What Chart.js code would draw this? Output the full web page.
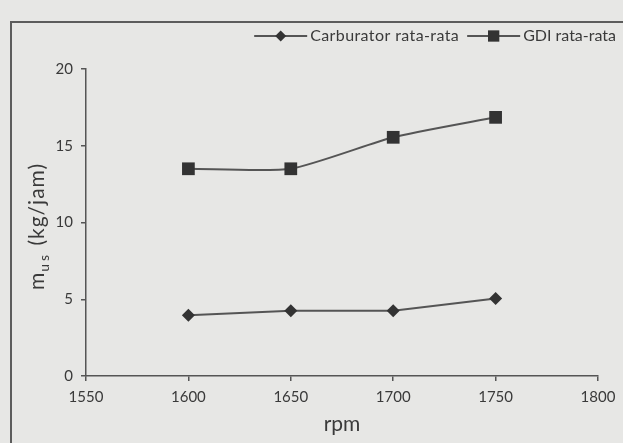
<!DOCTYPE html>
<html><head><meta charset="utf-8">
<script src="https://cdn.jsdelivr.net/npm/chart.js@4/dist/chart.umd.min.js"></script>
<style>
html,body{margin:0;padding:0;background:#e7e7e5;}
#wrap{position:relative;width:623px;height:443px;overflow:hidden;background:#e7e7e5;}
#frame{position:absolute;left:10px;top:21px;width:700px;height:500px;border-left:2px solid #5c5c5c;border-top:2px solid #5c5c5c;}
canvas{position:absolute;left:0;top:0;}
</style></head><body>
<div id="wrap"><div id="frame"></div><canvas id="c" width="623" height="443"></canvas></div>
<script>
const rpm = [1600, 1650, 1700, 1750];
const carburator = [3.95, 4.25, 4.25, 5.05];
const gdi = [13.5, 13.5, 15.55, 16.85];
const seriesNames = ['Carburator rata-rata', 'GDI rata-rata'];
const xTicks = [1550, 1600, 1650, 1700, 1750, 1800];
const yTicks = [0, 5, 10, 15, 20];
const xTitle = 'rpm';
const yTitleMain = 'm', yTitleSub = 'us', yTitleUnit = '(kg/jam)';

const INK = '#3a3a3a';
const LINE = '#555555';
const MARK = '#333333';
const FONT = 'Lato, "Open Sans", sans-serif';

function pts(vals){ return rpm.map((x,i)=>({x:x, y:vals[i]})); }

function drawMarker(ctx, style, x, y, r){
  ctx.beginPath();
  if(style==='rectRot'){
    ctx.moveTo(x, y-r); ctx.lineTo(x+r, y); ctx.lineTo(x, y+r); ctx.lineTo(x-r, y);
  } else {
    const s = r*Math.SQRT1_2; ctx.rect(x-s, y-s, 2*s, 2*s);
  }
  ctx.closePath(); ctx.fill();
}

const annot = {
  id: 'annot',
  afterDraw(chart){
    const ctx = chart.ctx, ca = chart.chartArea;
    ctx.save();
    // legend (right aligned, above plot)
    ctx.textBaseline = 'middle';
    const ly = 36;
    let right = 616;
    const styles = ['rectRot','rect'], radii=[5.5,8], spacing=['0.4px','0px'];
    for(let i=seriesNames.length-1;i>=0;i--){
      ctx.font = '16px ' + FONT;
      ctx.letterSpacing = spacing[i];
      const w = ctx.measureText(seriesNames[i]).width;
      const tx = right - w;
      ctx.fillStyle = INK; ctx.textAlign='left';
      ctx.fillText(seriesNames[i], tx, ly);
      ctx.letterSpacing = '0px';
      const l1 = tx - 3, l0 = l1 - 53;
      ctx.strokeStyle = LINE; ctx.lineWidth = 2;
      ctx.beginPath(); ctx.moveTo(l0, ly); ctx.lineTo(l1, ly); ctx.stroke();
      ctx.fillStyle = MARK;
      drawMarker(ctx, styles[i], (l0+l1)/2, ly, radii[i]);
      right = l0 - 8;
    }
    // x title
    ctx.fillStyle = INK;
    ctx.font = '21px ' + FONT;
    ctx.textAlign = 'center'; ctx.textBaseline = 'middle';
    ctx.fillText(xTitle, (ca.left+ca.right)/2, 424);
    // y title with subscript
    ctx.translate(37, 227);
    ctx.rotate(-Math.PI/2);
    ctx.textAlign = 'left'; ctx.textBaseline = 'alphabetic';
    const fMain = '21px ' + FONT, fSub = '14px ' + FONT;
    ctx.font = fMain; const wm = ctx.measureText(yTitleMain).width;
    ctx.font = fSub; ctx.letterSpacing = '3px'; const ws = ctx.measureText(yTitleSub).width;
    ctx.letterSpacing = '0px';
    ctx.font = fMain; ctx.letterSpacing = '1px';
    const wsp = ctx.measureText(' ').width; const wu = ctx.measureText(yTitleUnit).width;
    ctx.letterSpacing = '0px';
    const total = wm + ws + wsp + wu;
    let x = -total/2; const base = 7;
    ctx.font = fMain; ctx.fillText(yTitleMain, x, base); x += wm + 1;
    ctx.font = fSub; ctx.letterSpacing = '3px'; ctx.fillText(yTitleSub, x, base + 5); x += ws;
    ctx.letterSpacing = '1px';
    ctx.font = fMain; x += wsp; ctx.fillText(yTitleUnit, x, base);
    ctx.restore();
  }
};

new Chart(document.getElementById('c'), {
  type: 'line',
  data: {
    datasets: [
      { label: seriesNames[0], data: pts(carburator), borderColor: LINE, borderWidth: 2,
        pointStyle: 'rectRot', pointRadius: 6.5, pointBackgroundColor: MARK, pointBorderColor: MARK,
        pointBorderWidth: 0, tension: 0 },
      { label: seriesNames[1], data: pts(gdi), borderColor: LINE, borderWidth: 2,
        pointStyle: 'rect', pointRadius: 9, pointBackgroundColor: MARK, pointBorderColor: MARK,
        pointBorderWidth: 0, tension: 0.2 }
    ]
  },
  options: {
    responsive: false, animation: false, devicePixelRatio: 1,
    layout: { padding: { top: 69, right: 25, left: 0, bottom: 0 } },
    plugins: { legend: { display: false }, tooltip: { enabled: false } },
    scales: {
      x: {
        type: 'linear', min: xTicks[0], max: xTicks[xTicks.length-1],
        afterBuildTicks: s => { s.ticks = xTicks.map(v => ({value: v})); },
        afterFit: s => { s.height = 67; },
        grid: { display: true, drawOnChartArea: false, drawTicks: true, tickLength: 5, color: LINE, lineWidth: 1.5 },
        border: { display: true, color: LINE, width: 1.5 },
        ticks: { color: INK, font: { family: FONT, size: 15 }, padding: 7, maxRotation: 0,
                 callback: v => String(v) }
      },
      y: {
        type: 'linear', min: yTicks[0], max: yTicks[yTicks.length-1],
        afterBuildTicks: s => { s.ticks = yTicks.map(v => ({value: v})); },
        afterFit: s => { s.width = 86; },
        grid: { display: true, drawOnChartArea: false, drawTicks: true, tickLength: 5, color: LINE, lineWidth: 1.5 },
        border: { display: true, color: LINE, width: 1.5 },
        ticks: { color: INK, font: { family: FONT, size: 15 }, padding: 8,
                 callback: v => String(v) }
      }
    }
  },
  plugins: [annot]
});
</script>
</body></html>
